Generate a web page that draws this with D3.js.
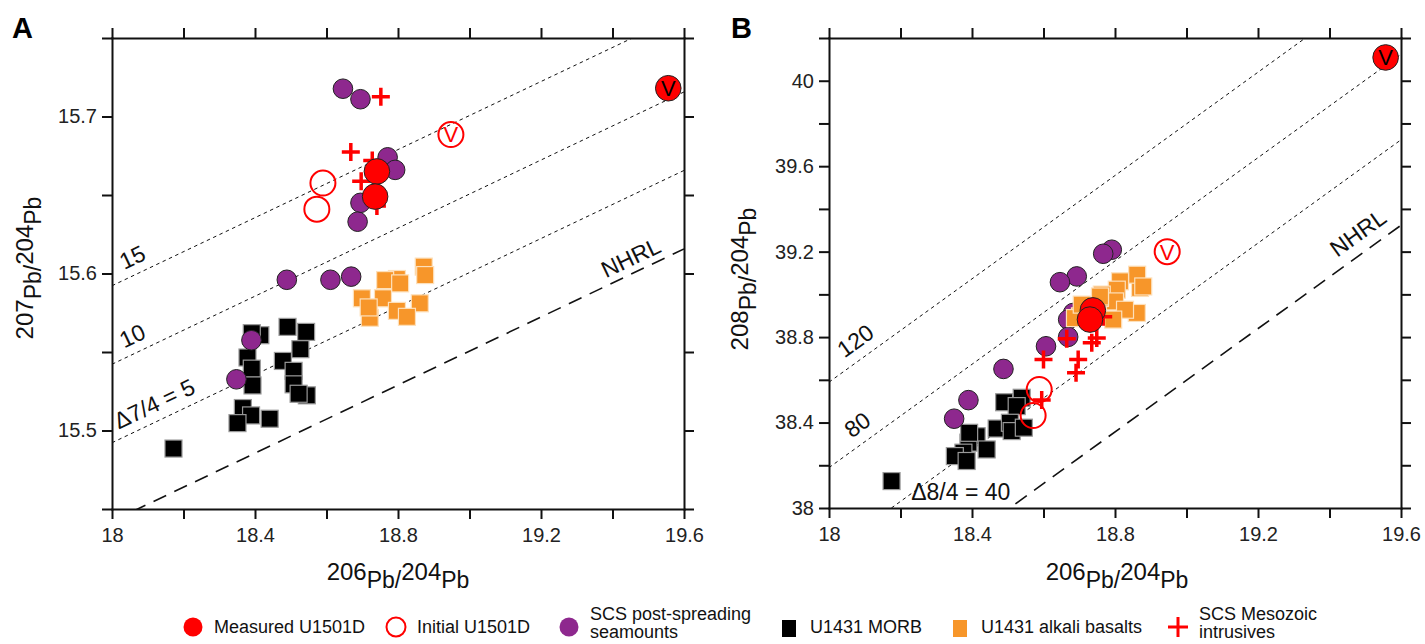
<!DOCTYPE html>
<html>
<head>
<meta charset="utf-8">
<script src="https://cdn.jsdelivr.net/npm/d3@7"></script>
<style>
  body { margin: 0; background: #fff; }
  svg { font-family: "Liberation Sans", Arial, sans-serif; }
</style>
</head>
<body>
<svg id="chart" width="1425" height="644"></svg>
<script>
// ticks
var xTicks = [18, 18.2, 18.4, 18.6, 18.8, 19, 19.2, 19.4, 19.6];
var xLabels = [18, 18.4, 18.8, 19.2, 19.6];
var yTicksA = [15.45, 15.5, 15.55, 15.6, 15.65, 15.7, 15.75];
var yLabelsA = [15.5, 15.6, 15.7];
var yTicksB = [38, 38.2, 38.4, 38.6, 38.8, 39, 39.2, 39.4, 39.6, 39.8, 40, 40.2];
var yLabelsB = [38, 38.4, 38.8, 39.2, 39.6, 40];

// panel A : 206Pb/204Pb vs 207Pb/204Pb
var morbA = [[18.172,15.4885],[18.491,15.566],[18.543,15.5628],[18.527,15.5518],[18.478,15.5443],[18.508,15.538],
  [18.508,15.5294],[18.545,15.5224],[18.522,15.5234],[18.415,15.5607],[18.391,15.562],[18.379,15.5465],
  [18.391,15.5394],[18.393,15.5287],[18.366,15.5143],[18.389,15.5096],[18.351,15.5047],[18.441,15.5075]];
var alkaliA = [[18.872,15.6044],[18.876,15.599],[18.797,15.5965],[18.764,15.5958],[18.806,15.5937],[18.699,15.5842],
  [18.758,15.5842],[18.861,15.581],[18.797,15.5762],[18.825,15.5724],[18.721,15.5718],[18.718,15.5784]];
var seamountA = [[18.646,15.7177],[18.695,15.711],[18.771,15.674],[18.792,15.666],[18.695,15.645],[18.687,15.633],
  [18.489,15.596],[18.611,15.596],[18.669,15.598],[18.390,15.5575],[18.348,15.5326]];
var intrusiveA = [[18.752,15.7126],[18.668,15.6774],[18.697,15.6587],[18.741,15.643],[18.728,15.672]];
var initialA = [[18.590,15.6576],[18.573,15.641]];
var measuredA = [[18.741,15.665],[18.736,15.649]];
var initialVA = [[18.948,15.6885]];
var measuredVA = [[19.556,15.718]];

// panel B : 206Pb/204Pb vs 208Pb/204Pb
var morbB = [[18.175,38.126],[18.490,38.495],[18.539,38.516],[18.525,38.477],[18.469,38.372],[18.506,38.399],
  [18.511,38.360],[18.545,38.376],[18.413,38.336],[18.441,38.274],[18.390,38.306],[18.392,38.352],
  [18.376,38.259],[18.352,38.243],[18.385,38.220]];
var alkaliB = [[18.870,39.030],[18.862,39.092],[18.879,39.037],[18.814,39.061],[18.805,39.022],[18.763,38.999],
  [18.800,38.967],[18.758,38.983],[18.861,38.913],[18.828,38.928],[18.795,38.882],[18.702,38.897],
  [18.688,38.889],[18.707,38.952],[18.758,38.990]];
var seamountB = [[18.791,39.209],[18.767,39.190],[18.693,39.084],[18.646,39.057],[18.683,38.913],[18.669,38.882],
  [18.669,38.801],[18.607,38.757],[18.488,38.651],[18.390,38.505],[18.350,38.418]];
var intrusiveB = [[18.665,38.792],[18.600,38.695],[18.697,38.695],[18.691,38.633],[18.735,38.773],[18.749,38.796],
  [18.595,38.505],[18.767,38.895]];
var initialB = [[18.588,38.555],[18.571,38.433]];
var measuredB = [[18.738,38.925],[18.730,38.882]];
var initialVB = [[18.946,39.2]];
var measuredVB = [[19.557,40.109]];

// reference lines: NHRL (slope, intercept) and delta offsets
var nhrlA = [0.1084, 13.491];
var nhrlB = [1.209, 15.627];
var deltaA = [5, 10, 15];
var deltaB = [40, 80, 120];

var svg = d3.select("#chart");

var purple = "#8e288e", orange = "#f7962a", red = "#ff0000";

function drawPanel(cfg) {
  var g = svg.append("g");
  var x = d3.scaleLinear().domain([18, 19.6]).range([cfg.left, cfg.right]);
  var y = d3.scaleLinear().domain(cfg.yDomain).range([cfg.bottom, cfg.top]);

  var clipId = "clip" + cfg.name;
  svg.append("clipPath").attr("id", clipId).append("rect")
    .attr("x", cfg.left).attr("y", cfg.top)
    .attr("width", cfg.right - cfg.left).attr("height", cfg.bottom - cfg.top);

  // reference lines
  var refs = g.append("g").attr("clip-path", "url(#" + clipId + ")");
  var line = d3.line().x(function (d) { return x(d[0]); }).y(function (d) { return y(d[1]); });
  var ends = [18, 19.6];
  function refPts(off) {
    return ends.map(function (v) { return [v, cfg.nhrl[0] * v + cfg.nhrl[1] + off]; });
  }
  cfg.deltas.forEach(function (dl) {
    refs.append("path").attr("d", line(refPts(dl / 100)))
      .attr("fill", "none").attr("stroke", "#111").attr("stroke-width", 1)
      .attr("stroke-dasharray", "3.5,3.5");
  });
  refs.append("path").attr("d", line(refPts(0)))
    .attr("fill", "none").attr("stroke", "#111").attr("stroke-width", 1.6)
    .attr("stroke-dasharray", "14,9");

  // line labels, rotated along the lines
  var p0 = refPts(0);
  var ang = Math.atan2(y(p0[1][1]) - y(p0[0][1]), x(p0[1][0]) - x(p0[0][0])) * 180 / Math.PI;
  cfg.lineLabels.forEach(function (lb) {
    var px = x(lb.x), py = y(cfg.nhrl[0] * lb.x + cfg.nhrl[1] + lb.d / 100);
    g.append("text")
      .attr("transform", "translate(" + px + "," + py + ") rotate(" + ang + ") translate(0," + (-lb.off) + ")")
      .attr("font-size", "23px").attr("fill", "#111").text(lb.text);
  });
  if (cfg.flatLabel) {
    g.append("text").attr("x", x(cfg.flatLabel.x)).attr("y", y(cfg.flatLabel.y))
      .attr("font-size", "23px").attr("fill", "#111").text(cfg.flatLabel.text);
  }

  // axes
  function fmt(labels) { return function (d) { return labels.indexOf(d) >= 0 ? d : ""; }; }
  var axes = [
    ["translate(0," + cfg.bottom + ")", d3.axisBottom(x).tickValues(xTicks).tickFormat(fmt(xLabels)).tickPadding(9)],
    ["translate(0," + cfg.top + ")", d3.axisTop(x).tickValues(xTicks).tickFormat("")],
    ["translate(" + cfg.left + ",0)", d3.axisLeft(y).tickValues(cfg.yTicks).tickFormat(fmt(cfg.yLabels)).tickPadding(5)],
    ["translate(" + cfg.right + ",0)", d3.axisRight(y).tickValues(cfg.yTicks).tickFormat("")]
  ];
  axes.forEach(function (a) {
    var ax = g.append("g").attr("transform", a[0]).call(a[1].tickSize(10).tickSizeOuter(0));
    ax.attr("font-family", null).attr("font-size", null);
    ax.select(".domain").attr("stroke", "#111").attr("stroke-width", 2).attr("stroke-linecap", "square");
    ax.selectAll(".tick line").attr("stroke", "#111").attr("stroke-width", 2);
    ax.selectAll(".tick text").attr("font-size", "20px").attr("fill", "#222");
  });

  // markers
  var m = g.append("g");
  function squares(data, fill, stroke) {
    m.selectAll(null).data(data).enter().append("rect")
      .attr("x", function (d) { return x(d[0]) - 8.5; })
      .attr("y", function (d) { return y(d[1]) - 8.5; })
      .attr("width", 17).attr("height", 17)
      .attr("fill", fill).attr("stroke", stroke).attr("stroke-width", 1.2);
  }
  function circles(data, r, fill, stroke, sw) {
    m.selectAll(null).data(data).enter().append("circle")
      .attr("cx", function (d) { return x(d[0]); })
      .attr("cy", function (d) { return y(d[1]); })
      .attr("r", r).attr("fill", fill).attr("stroke", stroke).attr("stroke-width", sw);
  }
  function crosses(data) {
    m.selectAll(null).data(data).enter().append("path")
      .attr("d", function (d) {
        var cx = x(d[0]), cy = y(d[1]);
        return "M" + (cx - 9) + "," + cy + "H" + (cx + 9) + "M" + cx + "," + (cy - 9) + "V" + (cy + 9);
      })
      .attr("stroke", red).attr("stroke-width", 3.5).attr("fill", "none");
  }
  function vLabels(data, color) {
    m.selectAll(null).data(data).enter().append("text")
      .attr("x", function (d) { return x(d[0]); })
      .attr("y", function (d) { return y(d[1]); })
      .attr("dy", "0.36em").attr("text-anchor", "middle")
      .attr("font-size", "22px").attr("fill", color).text("V");
  }

  squares(cfg.morb, "#000", "#999");
  circles(cfg.seamount, 9.8, purple, "#222", 1);
  squares(cfg.alkali, orange, "#fde0bb");
  crosses(cfg.intrusive);
  circles(cfg.initial.concat(cfg.initialV), 12.5, "none", red, 2);
  circles(cfg.measured.concat(cfg.measuredV), 12.8, red, "#222", 1);
  vLabels(cfg.initialV, red);
  vLabels(cfg.measuredV, "#000");

  // axis titles
  function title(transform, num) {
    var tx = g.append("text").attr("transform", transform).attr("text-anchor", "middle").attr("fill", "#111");
    tx.append("tspan").attr("font-size", "24px").attr("dy", -8).text(num);
    tx.append("tspan").attr("font-size", "23px").attr("dy", 8).text("Pb/");
    tx.append("tspan").attr("font-size", "24px").attr("dy", -8).text("204");
    tx.append("tspan").attr("font-size", "23px").attr("dy", 8).text("Pb");
  }
  title("translate(" + cfg.xTitle[0] + "," + cfg.xTitle[1] + ")", "206");
  title("translate(" + cfg.yTitle[0] + "," + cfg.yTitle[1] + ") rotate(-90)", cfg.yNum);

  g.append("text").attr("x", cfg.letter[0]).attr("y", cfg.letter[1])
    .attr("font-size", "29px").attr("font-weight", "bold").attr("fill", "#000").text(cfg.name);
}

drawPanel({
  name: "A", left: 112, right: 684, top: 38, bottom: 509, yDomain: [15.45, 15.75],
  yTicks: yTicksA, yLabels: yLabelsA, nhrl: nhrlA, deltas: deltaA,
  lineLabels: [
    { x: 18.045, d: 15, off: 9, text: "15" },
    { x: 18.045, d: 10, off: 9, text: "10" },
    { x: 18.03, d: 5, off: 9, text: "\u03947/4 = 5" },
    { x: 19.39, d: 0, off: 7, text: "NHRL" }
  ],
  morb: morbA, alkali: alkaliA, seamount: seamountA, intrusive: intrusiveA,
  initial: initialA, measured: measuredA, initialV: initialVA, measuredV: measuredVA,
  xTitle: [398, 588], yTitle: [41, 268], yNum: "207", letter: [12, 38]
});

drawPanel({
  name: "B", left: 829, right: 1401, top: 38, bottom: 508, yDomain: [38, 40.2],
  yTicks: yTicksB, yLabels: yLabelsB, nhrl: nhrlB, deltas: deltaB,
  lineLabels: [
    { x: 18.06, d: 120, off: 10, text: "120" },
    { x: 18.08, d: 80, off: 10, text: "80" },
    { x: 19.44, d: 0, off: 11, text: "NHRL" }
  ],
  flatLabel: { x: 18.23, y: 38.037, text: "\u03948/4 = 40" },
  morb: morbB, alkali: alkaliB, seamount: seamountB, intrusive: intrusiveB,
  initial: initialB, measured: measuredB, initialV: initialVB, measuredV: measuredVB,
  xTitle: [1117, 588], yTitle: [756, 279], yNum: "208", letter: [731, 38]
});

// legend
var legendItems = [
  { type: "measured", x: 193, lines: ["Measured U1501D"] },
  { type: "initial", x: 396, lines: ["Initial U1501D"] },
  { type: "seamount", x: 569, lines: ["SCS post-spreading", "seamounts"] },
  { type: "morb", x: 789, lines: ["U1431 MORB"] },
  { type: "alkali", x: 960, lines: ["U1431 alkali basalts"] },
  { type: "intrusive", x: 1178, lines: ["SCS Mesozoic", "intrusives"] }
];
var ly = 627;
var leg = svg.append("g");
legendItems.forEach(function (it) {
  var s = leg.append("g").attr("transform", "translate(" + it.x + "," + ly + ")");
  if (it.type === "measured") s.append("circle").attr("r", 9.5).attr("fill", red);
  if (it.type === "initial") s.append("circle").attr("r", 9.5).attr("fill", "none").attr("stroke", red).attr("stroke-width", 2);
  if (it.type === "seamount") s.append("circle").attr("r", 9.5).attr("fill", purple);
  if (it.type === "morb") s.append("rect").attr("x", -7).attr("y", -7).attr("width", 14).attr("height", 17).attr("fill", "#000");
  if (it.type === "alkali") s.append("rect").attr("x", -7).attr("y", -7).attr("width", 14).attr("height", 17).attr("fill", orange);
  if (it.type === "intrusive") s.append("path").attr("d", "M-10,0H10M0,-10V10").attr("stroke", red).attr("stroke-width", 3);
  var t = s.append("text").attr("x", 21).attr("font-size", "18px").attr("fill", "#111");
  if (it.lines.length === 1) {
    t.attr("dy", "0.35em").text(it.lines[0]);
  } else {
    t.append("tspan").attr("x", 21).attr("dy", -7).text(it.lines[0]);
    t.append("tspan").attr("x", 21).attr("dy", 18).text(it.lines[1]);
  }
});
</script>
</body>
</html>
